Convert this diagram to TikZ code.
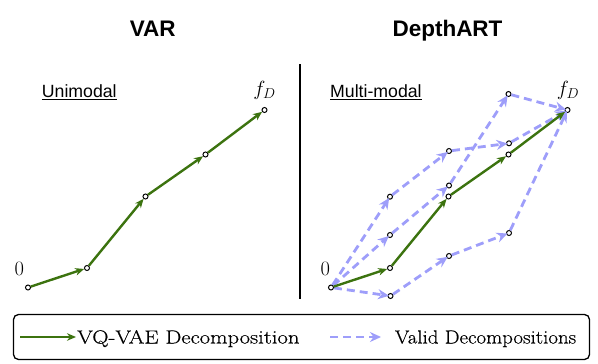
\RequirePackage{fix-cm}
\documentclass[tikz,border=0pt]{standalone}
\usepackage{fontspec}
\newfontfamily\titlefont{Liberation Sans}
\newfontfamily\legfontA[FakeStretch=1.19,FakeBold=0.4]{Latin Modern Roman}
\newfontfamily\legfontB[FakeStretch=1.10,FakeBold=0.4]{Latin Modern Roman}
\usetikzlibrary{arrows.meta}
\definecolor{vqgreen}{RGB}{60,115,15}
\definecolor{validcol}{RGB}{158,158,250}
\begin{document}
\begin{tikzpicture}[x=1pt,y=-1pt,
  pt/.style={circle,draw=black,fill=white,line width=1pt,minimum size=5pt,inner sep=0pt},
  vq/.style={draw=vqgreen,line width=2.4pt,-{Stealth[length=9pt,width=7.5pt]}},
  valid/.style={draw=validcol,line width=2.8pt,dash pattern=on 8pt off 5pt,-{Stealth[length=11pt,width=10pt]},shorten >=-1.5pt},
  ttl/.style={font=\titlefont\bfseries\fontsize{22.5}{26}\selectfont,anchor=base,inner sep=0pt},
  sub/.style={font=\titlefont\fontsize{17.7}{20}\selectfont,anchor=base west,inner sep=0pt},
  mth/.style={font=\fontsize{20.5}{24}\selectfont,anchor=base,inner sep=0pt},
  legA/.style={font=\legfontA\fontsize{19}{22}\selectfont,anchor=base west,inner sep=0pt},
  legB/.style={font=\legfontB\fontsize{19}{22}\selectfont,anchor=base west,inner sep=0pt},
]
\useasboundingbox (0,0) rectangle (598,364);

% titles
\node[ttl] (t1) at (152.7,36) {VAR};
\node[ttl] (t2) at (447.5,36) {DepthART};
\node[sub] (s1) at (41.7,97.5) {\underline{Unimodal}};
\node[sub] (s2) at (330,97.5) {\underline{Multi-modal}};

% divider
\draw[line width=2.5pt] (300,64) -- (300,299);

% left panel points
\node[pt] (p0) at (28,287.5) {};
\node[pt] (p1) at (87,268) {};
\node[pt] (p2) at (145.5,196.5) {};
\node[pt] (p3) at (205.5,154.5) {};
\node[pt] (p4) at (264.5,110) {};
\node[mth] (z1) at (19.3,275.5) {$0$};
\node[mth] (f1) at (264.5,95.5) {$f_D$};

% right panel points
\node[pt] (q0) at (331,287.5) {};
\node[pt] (q1) at (390,268) {};
\node[pt] (q2) at (448.5,196.5) {};
\node[pt] (q3) at (508.5,154.5) {};
\node[pt] (q4) at (567.5,110) {};
\node[pt] (g) at (390,196.7) {};
\node[pt] (h) at (449,151) {};
\node[pt] (f) at (509,143.3) {};
\node[pt] (d) at (390,235) {};
\node[pt] (e) at (449,185.5) {};
\node[pt] (i) at (508.5,94) {};
\node[pt] (a) at (390.5,296) {};
\node[pt] (b) at (449,256) {};
\node[pt] (c) at (509,233) {};
\node[mth] (z2) at (325.3,275.5) {$0$};
\node[mth] (f2) at (568,95.5) {$f_D$};

% valid decompositions
\draw[valid] (q0) -- (g);
\draw[valid] (g) -- (h);
\draw[valid] (h) -- (f);
\draw[valid] (f) -- (q4);
\draw[valid] (q0) -- (d);
\draw[valid] (d) -- (e);
\draw[valid] (e) -- (i);
\draw[valid] (i) -- (q4);
\draw[valid] (q0) -- (a);
\draw[valid] (a) -- (b);
\draw[valid] (b) -- (c);
\draw[valid] (c) -- (q4);

% VQ-VAE paths
\draw[vq] (p0) -- (p1);
\draw[vq] (p1) -- (p2);
\draw[vq] (p2) -- (p3);
\draw[vq] (p3) -- (p4);
\draw[vq] (q0) -- (q1);
\draw[vq] (q1) -- (q2);
\draw[vq] (q2) -- (q3);
\draw[vq] (q3) -- (q4);

% legend
\node[draw=black,line width=1.3pt,rounded corners=5pt,minimum width=576pt,minimum height=45pt,inner sep=0pt] (box) at (301.5,337) {};
\coordinate (la1) at (20,337);
\coordinate (la2) at (76,337);
\coordinate (lb1) at (330,337);
\coordinate (lb2) at (381,337);
\draw[vq] (la1) -- (la2);
\draw[valid,shorten >=0pt] (lb1) -- (lb2);
\node[legA] (l1) at (77,343.5) {VQ-VAE Decomposition};
\node[legB] (l2) at (394.7,343.5) {Valid Decompositions};
\end{tikzpicture}
\end{document}
